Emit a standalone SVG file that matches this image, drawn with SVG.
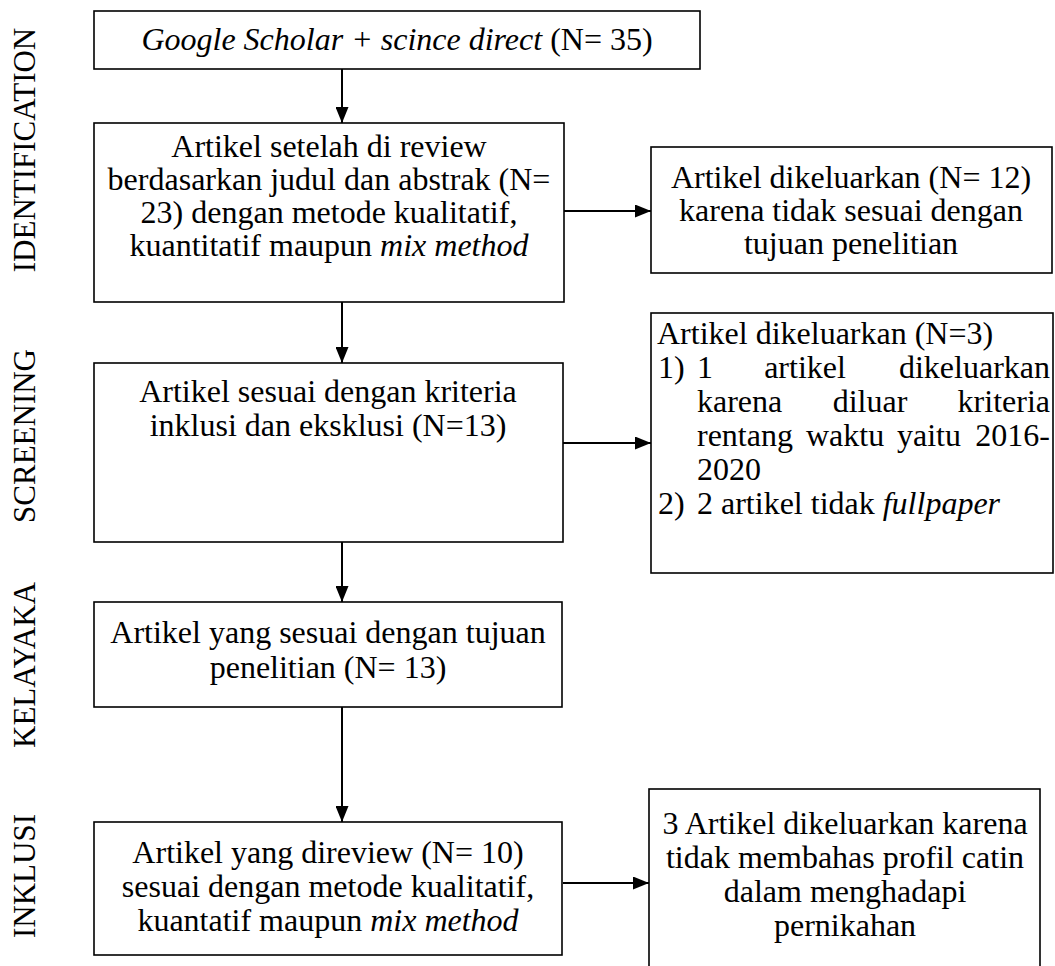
<svg xmlns="http://www.w3.org/2000/svg" width="1055" height="966" viewBox="0 0 1055 966">
<style>
.box{fill:#fff;stroke:#000;stroke-width:1.6}
.t{font-family:"Liberation Serif","Times New Roman","DejaVu Serif",serif;font-size:32px;fill:#000}
.c{text-anchor:middle}
.e{text-anchor:end}
.i{font-style:italic}
.lbl{font-family:"Liberation Serif","Times New Roman","DejaVu Serif",serif;font-size:31px;fill:#000;text-anchor:middle}
.con{stroke:#000;stroke-width:2;fill:none;marker-end:url(#ah)}
</style>
<defs>
<marker id="ah" markerUnits="userSpaceOnUse" markerWidth="16" markerHeight="13" refX="16" refY="6.5" orient="auto">
<path d="M0,0 L16,6.5 L0,13 Z" fill="#000"/>
</marker>
</defs>
<rect width="1055" height="966" fill="#fff"/>
<g id="labels">
<text class="lbl" transform="translate(35,150) rotate(-90)">IDENTIFICATION</text>
<text class="lbl" transform="translate(35,436) rotate(-90)">SCREENING</text>
<text class="lbl" transform="translate(35,665) rotate(-90)">KELAYAKA</text>
<text class="lbl" transform="translate(35,876) rotate(-90)">INKLUSI</text>
</g>
<g id="connectors">
<line class="con" x1="342" y1="69" x2="342" y2="123"/>
<line class="con" x1="564" y1="211" x2="651" y2="211"/>
<line class="con" x1="342" y1="302" x2="342" y2="363"/>
<line class="con" x1="563" y1="443" x2="651" y2="443"/>
<line class="con" x1="342" y1="542" x2="342" y2="602"/>
<line class="con" x1="342" y1="707" x2="342" y2="822"/>
<line class="con" x1="563" y1="883" x2="649" y2="883"/>
</g>
<g id="n1">
<rect class="box" x="94" y="11" width="606" height="58"/>
<text class="t c" x="397" y="50"><tspan class="i">Google Scholar + scince direct</tspan> (N= 35)</text>
</g>
<g id="n2">
<rect class="box" x="94" y="123" width="470" height="179"/>
<text class="t c" x="329" y="157">Artikel setelah di review</text>
<text class="t c" x="329" y="190">berdasarkan judul dan abstrak (N=</text>
<text class="t c" x="329" y="223">23) dengan metode kualitatif,</text>
<text class="t c" x="329" y="256">kuantitatif maupun <tspan class="i">mix method</tspan></text>
</g>
<g id="n3">
<rect class="box" x="651" y="147" width="401" height="126"/>
<text class="t c" x="851" y="188">Artikel dikeluarkan (N= 12)</text>
<text class="t c" x="851" y="221">karena tidak sesuai dengan</text>
<text class="t c" x="851" y="254">tujuan penelitian</text>
</g>
<g id="n4">
<rect class="box" x="94" y="363" width="469" height="179"/>
<text class="t c" x="328" y="402">Artikel sesuai dengan kriteria</text>
<text class="t c" x="328" y="436">inklusi dan eksklusi (N=13)</text>
</g>
<g id="n5">
<rect class="box" x="651" y="313" width="402" height="260"/>
<text class="t" x="657" y="344">Artikel dikeluarkan (N=3)</text>
<text class="t" x="658" y="378">1)</text>
<text class="t" x="697" y="378">1</text>
<text class="t c" x="805" y="378">artikel</text>
<text class="t e" x="1050" y="378">dikeluarkan</text>
<text class="t" x="697" y="412">karena</text>
<text class="t c" x="870" y="412">diluar</text>
<text class="t e" x="1050" y="412">kriteria</text>
<text class="t" x="697" y="446">rentang</text>
<text class="t" x="806" y="446">waktu</text>
<text class="t" x="897" y="446">yaitu</text>
<text class="t e" x="1050" y="446">2016-</text>
<text class="t" x="697" y="480">2020</text>
<text class="t" x="658" y="514">2)</text>
<text class="t" x="697" y="514">2 artikel tidak <tspan class="i">fullpaper</tspan></text>
</g>
<g id="n6">
<rect class="box" x="94" y="602" width="468" height="105"/>
<text class="t c" x="328" y="643">Artikel yang sesuai dengan tujuan</text>
<text class="t c" x="328" y="678">penelitian (N= 13)</text>
</g>
<g id="n7">
<rect class="box" x="94" y="822" width="468" height="133"/>
<text class="t c" x="328" y="863">Artikel yang direview (N= 10)</text>
<text class="t c" x="328" y="897">sesuai dengan metode kualitatif,</text>
<text class="t c" x="328" y="931">kuantatif maupun <tspan class="i">mix method</tspan></text>
</g>
<g id="n8">
<rect class="box" x="649" y="789" width="391" height="200"/>
<text class="t c" x="845" y="834">3 Artikel dikeluarkan karena</text>
<text class="t c" x="845" y="868">tidak membahas profil catin</text>
<text class="t c" x="845" y="902">dalam menghadapi</text>
<text class="t c" x="845" y="936">pernikahan</text>
</g>
</svg>
